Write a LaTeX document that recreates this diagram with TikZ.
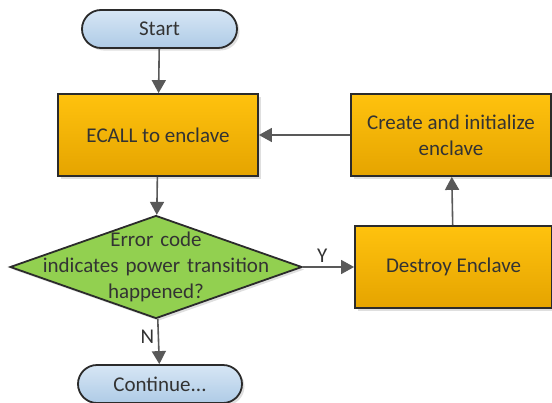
\documentclass[tikz,border=0pt]{standalone}
\usepackage{fontspec}
\setmainfont{Carlito}
\usetikzlibrary{shapes.geometric,shapes.misc,shadows,arrows.meta}
\definecolor{orTop}{HTML}{FFC20E}
\definecolor{orBot}{HTML}{E5A400}
\definecolor{blTop}{HTML}{D6E6F5}
\definecolor{blBot}{HTML}{AFCBE6}
\definecolor{gr}{HTML}{92D050}
\definecolor{edge}{HTML}{2B2B2B}
\definecolor{arr}{HTML}{595959}
\begin{document}
\begin{tikzpicture}[x=1pt,y=-1pt,
  base/.style={draw=edge, line width=1.8pt, font=\fontsize{21}{26}\selectfont, text=black!80, align=center,
    drop shadow={opacity=0.25, shadow xshift=2.5pt, shadow yshift=-2.5pt}},
  procbox/.style={base, rectangle, top color=orTop, bottom color=orBot, minimum width=200pt, minimum height=82pt, inner sep=0pt},
  termbox/.style={base, rounded rectangle, top color=blTop, bottom color=blBot, minimum height=38pt, inner sep=0pt},
  decbox/.style={base, diamond, fill=gr, minimum width=292pt, minimum height=103pt, inner sep=0pt},
  conn/.style={draw=arr, line width=1.6pt, -{Triangle[length=13pt,width=14pt]}},
  lbl/.style={font=\fontsize{21}{26}\selectfont, text=black!80}]
\useasboundingbox (0,0) rectangle (552,402);
\node[termbox, minimum width=155pt] (start) at (159.5,29) {Start};
\node[procbox] (ecall) at (158,135) {ECALL to enclave};
\node[procbox] (create) at (451,135) {Create and initialize\\enclave};
\node[decbox, label={[lbl, align=center, text width=270pt]center:Error code\\indicates power transition\\happened?}] (dec) at (156,267) {};
\node[procbox, minimum width=197pt] (destroy) at (453.5,267) {Destroy Enclave};
\node[termbox, minimum width=164pt] (cont) at (160,384) {Continue...};
\draw[conn] (start) -- (ecall);
\draw[conn] (ecall) -- (dec);
\draw[conn] (dec) -- node[lbl, above, pos=0.38] {Y} (destroy);
\draw[conn] (destroy) -- (create);
\draw[conn] (create) -- (ecall);
\draw[conn] (dec) -- node[lbl, left, pos=0.4] {N} (cont);
\end{tikzpicture}
\end{document}
